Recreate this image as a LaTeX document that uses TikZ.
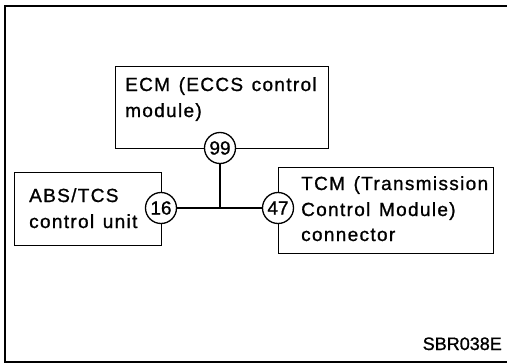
\documentclass[tikz,border=0pt]{standalone}
\usepackage{fontspec}
\setmainfont{Liberation Sans}[FakeBold=1]
\newfontfamily\boxfont[LetterSpace=7,WordSpace=1.3,FakeBold=1]{Liberation Sans}
\begin{document}
\begin{tikzpicture}[x=1pt,y=-1pt,
  frame/.style={line width=1.8pt},
  unitbox/.style={draw,line width=1.3pt,rectangle,inner sep=0pt,anchor=north west},
  pin/.style={draw,circle,fill=white,line width=1.3pt,minimum size=31pt,inner sep=0pt,font=\fontsize{19}{20}\selectfont},
  wire/.style={line width=1.3pt},
  lbl/.style={anchor=base west,inner sep=0pt,font=\boxfont\fontsize{19}{22}\selectfont},
  code/.style={anchor=base east,inner sep=0pt,font=\fontsize{18}{20}\selectfont}]
\useasboundingbox (0,0) rectangle (507,364);
\draw[frame] (507,6) -- (5,6) -- (5,362) -- (507,362);
\node[unitbox,minimum width=213pt,minimum height=82pt] (ecm) at (115,66) {};
\node[unitbox,minimum width=147pt,minimum height=73pt] (abs) at (14,172) {};
\node[unitbox,minimum width=215pt,minimum height=86pt] (tcm) at (278,167) {};
\node[lbl] (t1) at (125,91) {ECM (ECCS control};
\node[lbl] (t2) at (125,117) {module)};
\node[lbl] (t3) at (29,202) {ABS/TCS};
\node[lbl] (t4) at (29,228) {control unit};
\node[lbl] (t5) at (301,190) {TCM (Transmission};
\node[lbl] (t6) at (301,216) {Control Module)};
\node[lbl] (t7) at (301,241) {connector};
\coordinate (j) at (220,207);
\node[pin] (c99) at (220,148) {99};
\node[pin] (c16) at (161,208) {16};
\node[pin] (c47) at (278,208) {47};
\draw[wire] (c99.south) -- (j);
\draw[wire] (c16.east) -- (c47.west);
\node[code] (id) at (502,350) {SBR038E};
\end{tikzpicture}
\end{document}
